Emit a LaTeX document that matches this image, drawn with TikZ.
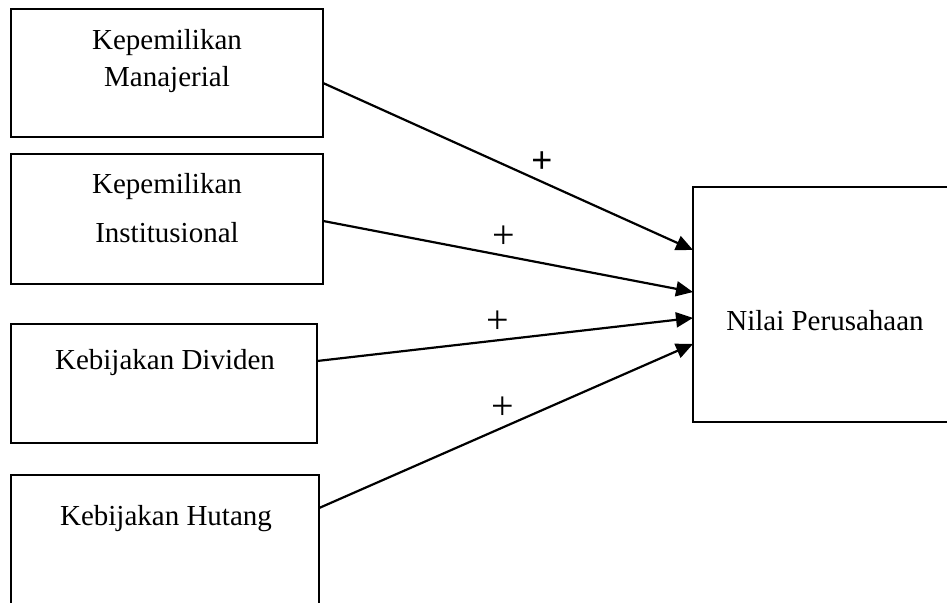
\documentclass[tikz,border=0pt]{standalone}
\usepackage{fontspec}
\setmainfont{Liberation Serif}
\newfontfamily\plussans{Liberation Sans}
\usetikzlibrary{calc,arrows.meta}
\begin{document}
\begin{tikzpicture}[x=1pt,y=-1pt,
  box/.style={draw,line width=2.7pt,rectangle,inner sep=0pt,outer sep=0pt,anchor=north west},
  lbl/.style={font=\fontsize{29}{37}\selectfont,align=center,inner sep=0pt},
  plus/.style={font=\fontsize{40}{44}\selectfont,inner sep=0pt},
  conn/.style={line width=2.2pt,-{Triangle[length=17pt,width=15pt]}}]
\useasboundingbox (0,0) rectangle (947,602);
\clip (0,0) rectangle (947,602);
\node[box,minimum width=312pt,minimum height=128pt] (b1) at (11,9) {};
\node[box,minimum width=312pt,minimum height=130pt] (b2) at (11,154) {};
\node[box,minimum width=306pt,minimum height=119pt] (b3) at (11,324) {};
\node[box,minimum width=308pt,minimum height=145pt] (b4) at (11,475) {};
\node[box,minimum width=267pt,minimum height=235pt] (b5) at (693,187) {};
\node[lbl] (t1) at (167,61) {Kepemilikan\\Manajerial};
\node[lbl] (t2) at (167,208) {Kepemilikan\\[12pt]Institusional};
\node[lbl] (t3) at (165,363) {Kebijakan Dividen};
\node[lbl] (t4) at (166,519) {Kebijakan Hutang};
\node[lbl] (t5) at (825,321) {Nilai Perusahaan};
\coordinate (s1) at ($(b1.north east)!0.578!(b1.south east)$);
\coordinate (s2) at ($(b2.north east)!0.515!(b2.south east)$);
\coordinate (s3) at ($(b3.north east)!0.311!(b3.south east)$);
\coordinate (s4) at ($(b4.north east)!0.228!(b4.south east)$);
\coordinate (e1) at ($(b5.north west)!0.268!(b5.south west)$);
\coordinate (e2) at ($(b5.north west)!0.447!(b5.south west)$);
\coordinate (e3) at ($(b5.north west)!0.557!(b5.south west)$);
\coordinate (e4) at ($(b5.north west)!0.668!(b5.south west)$);
\draw[conn] (s1) -- (e1);
\draw[conn] (s2) -- (e2);
\draw[conn] (s3) -- (e3);
\draw[conn] (s4) -- (e4);
\node[plus,font=\plussans\fontsize{36}{40}\selectfont] (p1) at (542,162) {+};
\node[plus] (p2) at (504,237) {+};
\node[plus] (p3) at (498,322) {+};
\node[plus] (p4) at (503,408) {+};
\end{tikzpicture}
\end{document}
